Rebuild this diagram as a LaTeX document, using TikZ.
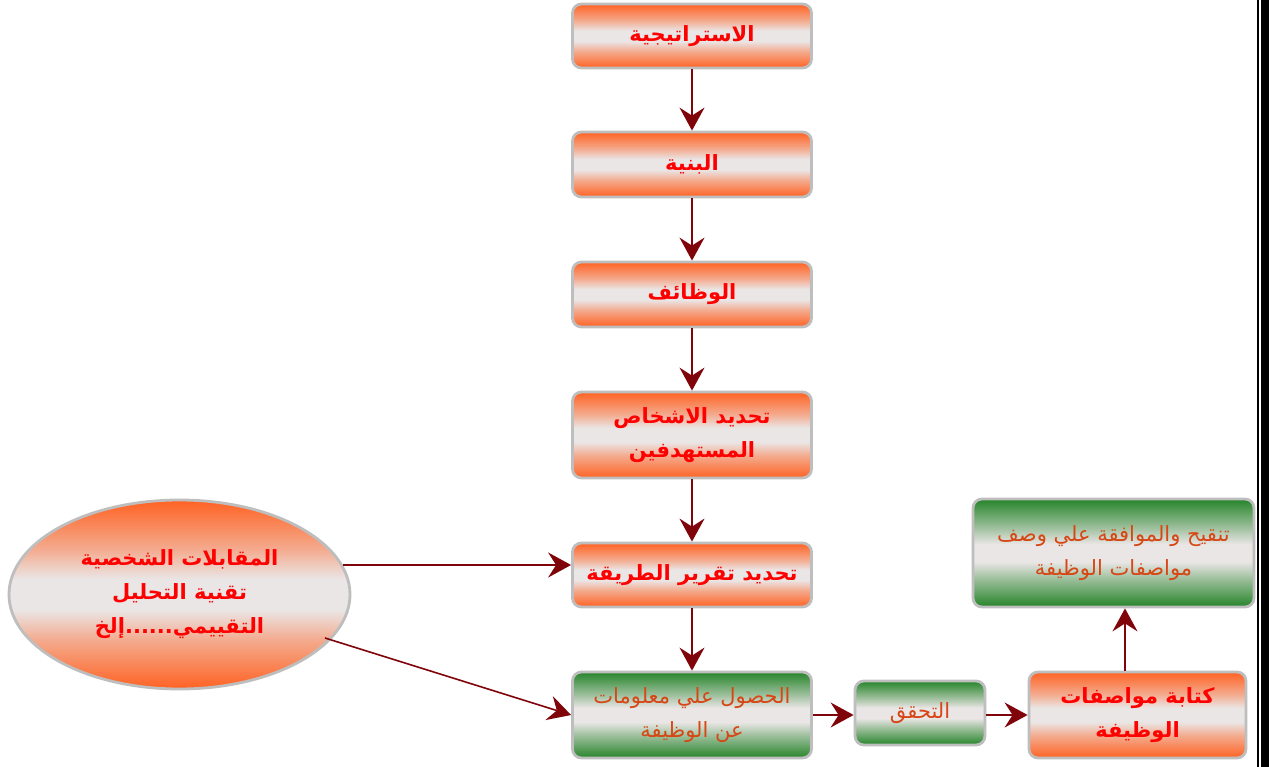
\documentclass[tikz,border=0pt]{standalone}
\usepackage{fontspec}
\newfontfamily\arabicfont[Script=Arabic]{DejaVu Sans}
\TeXXeTstate=1
\usetikzlibrary{arrows.meta,shapes.geometric}
\definecolor{orng}{RGB}{255,98,35}
\definecolor{midg}{RGB}{234,230,230}
\definecolor{grn}{RGB}{38,132,42}
\definecolor{bord}{RGB}{190,190,190}
\definecolor{arr}{RGB}{128,5,10}
\definecolor{redtxt}{RGB}{255,0,0}
\definecolor{grntxt}{RGB}{215,70,20}
\pgfdeclareverticalshading{oshade}{100bp}{
  color(0bp)=(orng); color(25bp)=(orng); color(38bp)=(orng!45!midg); color(46bp)=(midg);
  color(54bp)=(midg); color(62bp)=(orng!45!midg); color(75bp)=(orng); color(100bp)=(orng)}
\pgfdeclareverticalshading{gshade}{100bp}{
  color(0bp)=(grn); color(25bp)=(grn); color(38bp)=(grn!40!midg); color(46bp)=(midg);
  color(54bp)=(midg); color(62bp)=(grn!40!midg); color(75bp)=(grn); color(100bp)=(grn)}
\tikzset{
  obox/.style={rectangle,rounded corners=9pt,draw=bord,line width=2.8pt,
    shading=oshade,minimum width=#1,align=center,text=redtxt,
    font=\arabicfont\bfseries\fontsize{21}{34}\selectfont},
  gbox/.style={rectangle,rounded corners=9pt,draw=bord,line width=2.8pt,
    shading=gshade,minimum width=#1,align=center,text=grntxt,
    font=\arabicfont\fontsize{21}{34}\selectfont},
  conn/.style={draw=arr,line width=1.6pt,-{Stealth[length=23pt,width=25pt,inset=8pt]}}
}
\begin{document}
\begin{tikzpicture}[x=1pt,y=-1pt]
\useasboundingbox (0,0) rectangle (1278,767);
\fill[white] (0,0) rectangle (1278,767);
% right edge lines
\fill[black] (1256.5,0) rectangle (1258.5,767);
\fill[black] (1261,0) rectangle (1269,767);

\node[obox=239pt,minimum height=64pt] (s1) at (692,36) {\beginR الاستراتيجية\endR};
\node[obox=239pt,minimum height=65pt] (s2) at (692,164.5) {\beginR البنية\endR};
\node[obox=239pt,minimum height=65pt] (s3) at (692,294.5) {\beginR الوظائف\endR};
\node[obox=239pt,minimum height=86pt] (s4) at (692,435) {\beginR تحديد الاشخاص\endR\\\beginR المستهدفين\endR};
\node[obox=239pt,minimum height=64pt] (s5) at (692,575) {\beginR تحديد تقرير الطريقة\endR};
\node[gbox=239pt,minimum height=86pt] (s6) at (692,715) {\beginR الحصول علي معلومات\endR\\\beginR عن الوظيفة\endR};
\node[gbox=130pt,minimum height=64pt] (s7) at (920,713) {\beginR التحقق\endR};
\node[obox=217pt,minimum height=86pt] (s8) at (1137.5,715) {\beginR كتابة مواصفات\endR\\\beginR الوظيفة\endR};
\node[gbox=281pt,minimum height=108pt] (s9) at (1113.5,553) {\beginR تنقيح والموافقة علي وصف\endR\\\beginR مواصفات الوظيفة\endR};
\node[ellipse,draw=bord,line width=2.8pt,shading=oshade,
  minimum width=341pt,minimum height=189pt,inner sep=0pt,align=center,text=redtxt,
  font=\arabicfont\bfseries\fontsize{21}{34}\selectfont] (el) at (179.5,594.5)
  {\beginR المقابلات الشخصية\endR\\\beginR تقنية التحليل\endR\\\beginR التقييمي......إلخ\endR};

\draw[conn] (s1.south) -- (s2.north);
\draw[conn] (s2.south) -- (s3.north);
\draw[conn] (s3.south) -- (s4.north);
\draw[conn] (s4.south) -- (s5.north);
\draw[conn] (s5.south) -- (s6.north);
\coordinate (e1) at (343,565);
\coordinate (e2) at (325,638);
\draw[conn] (e1) -- (s5.west |- e1);
\draw[conn] (e2) -- (s6.west);
\draw[conn] (s6.east) -- (s7.west |- s6.east);
\draw[conn] (s7.east |- s8.west) -- (s8.west);
\draw[conn] (s8.north -| 1125,0) -- (s9.south -| 1125,0);
\end{tikzpicture}
\end{document}
